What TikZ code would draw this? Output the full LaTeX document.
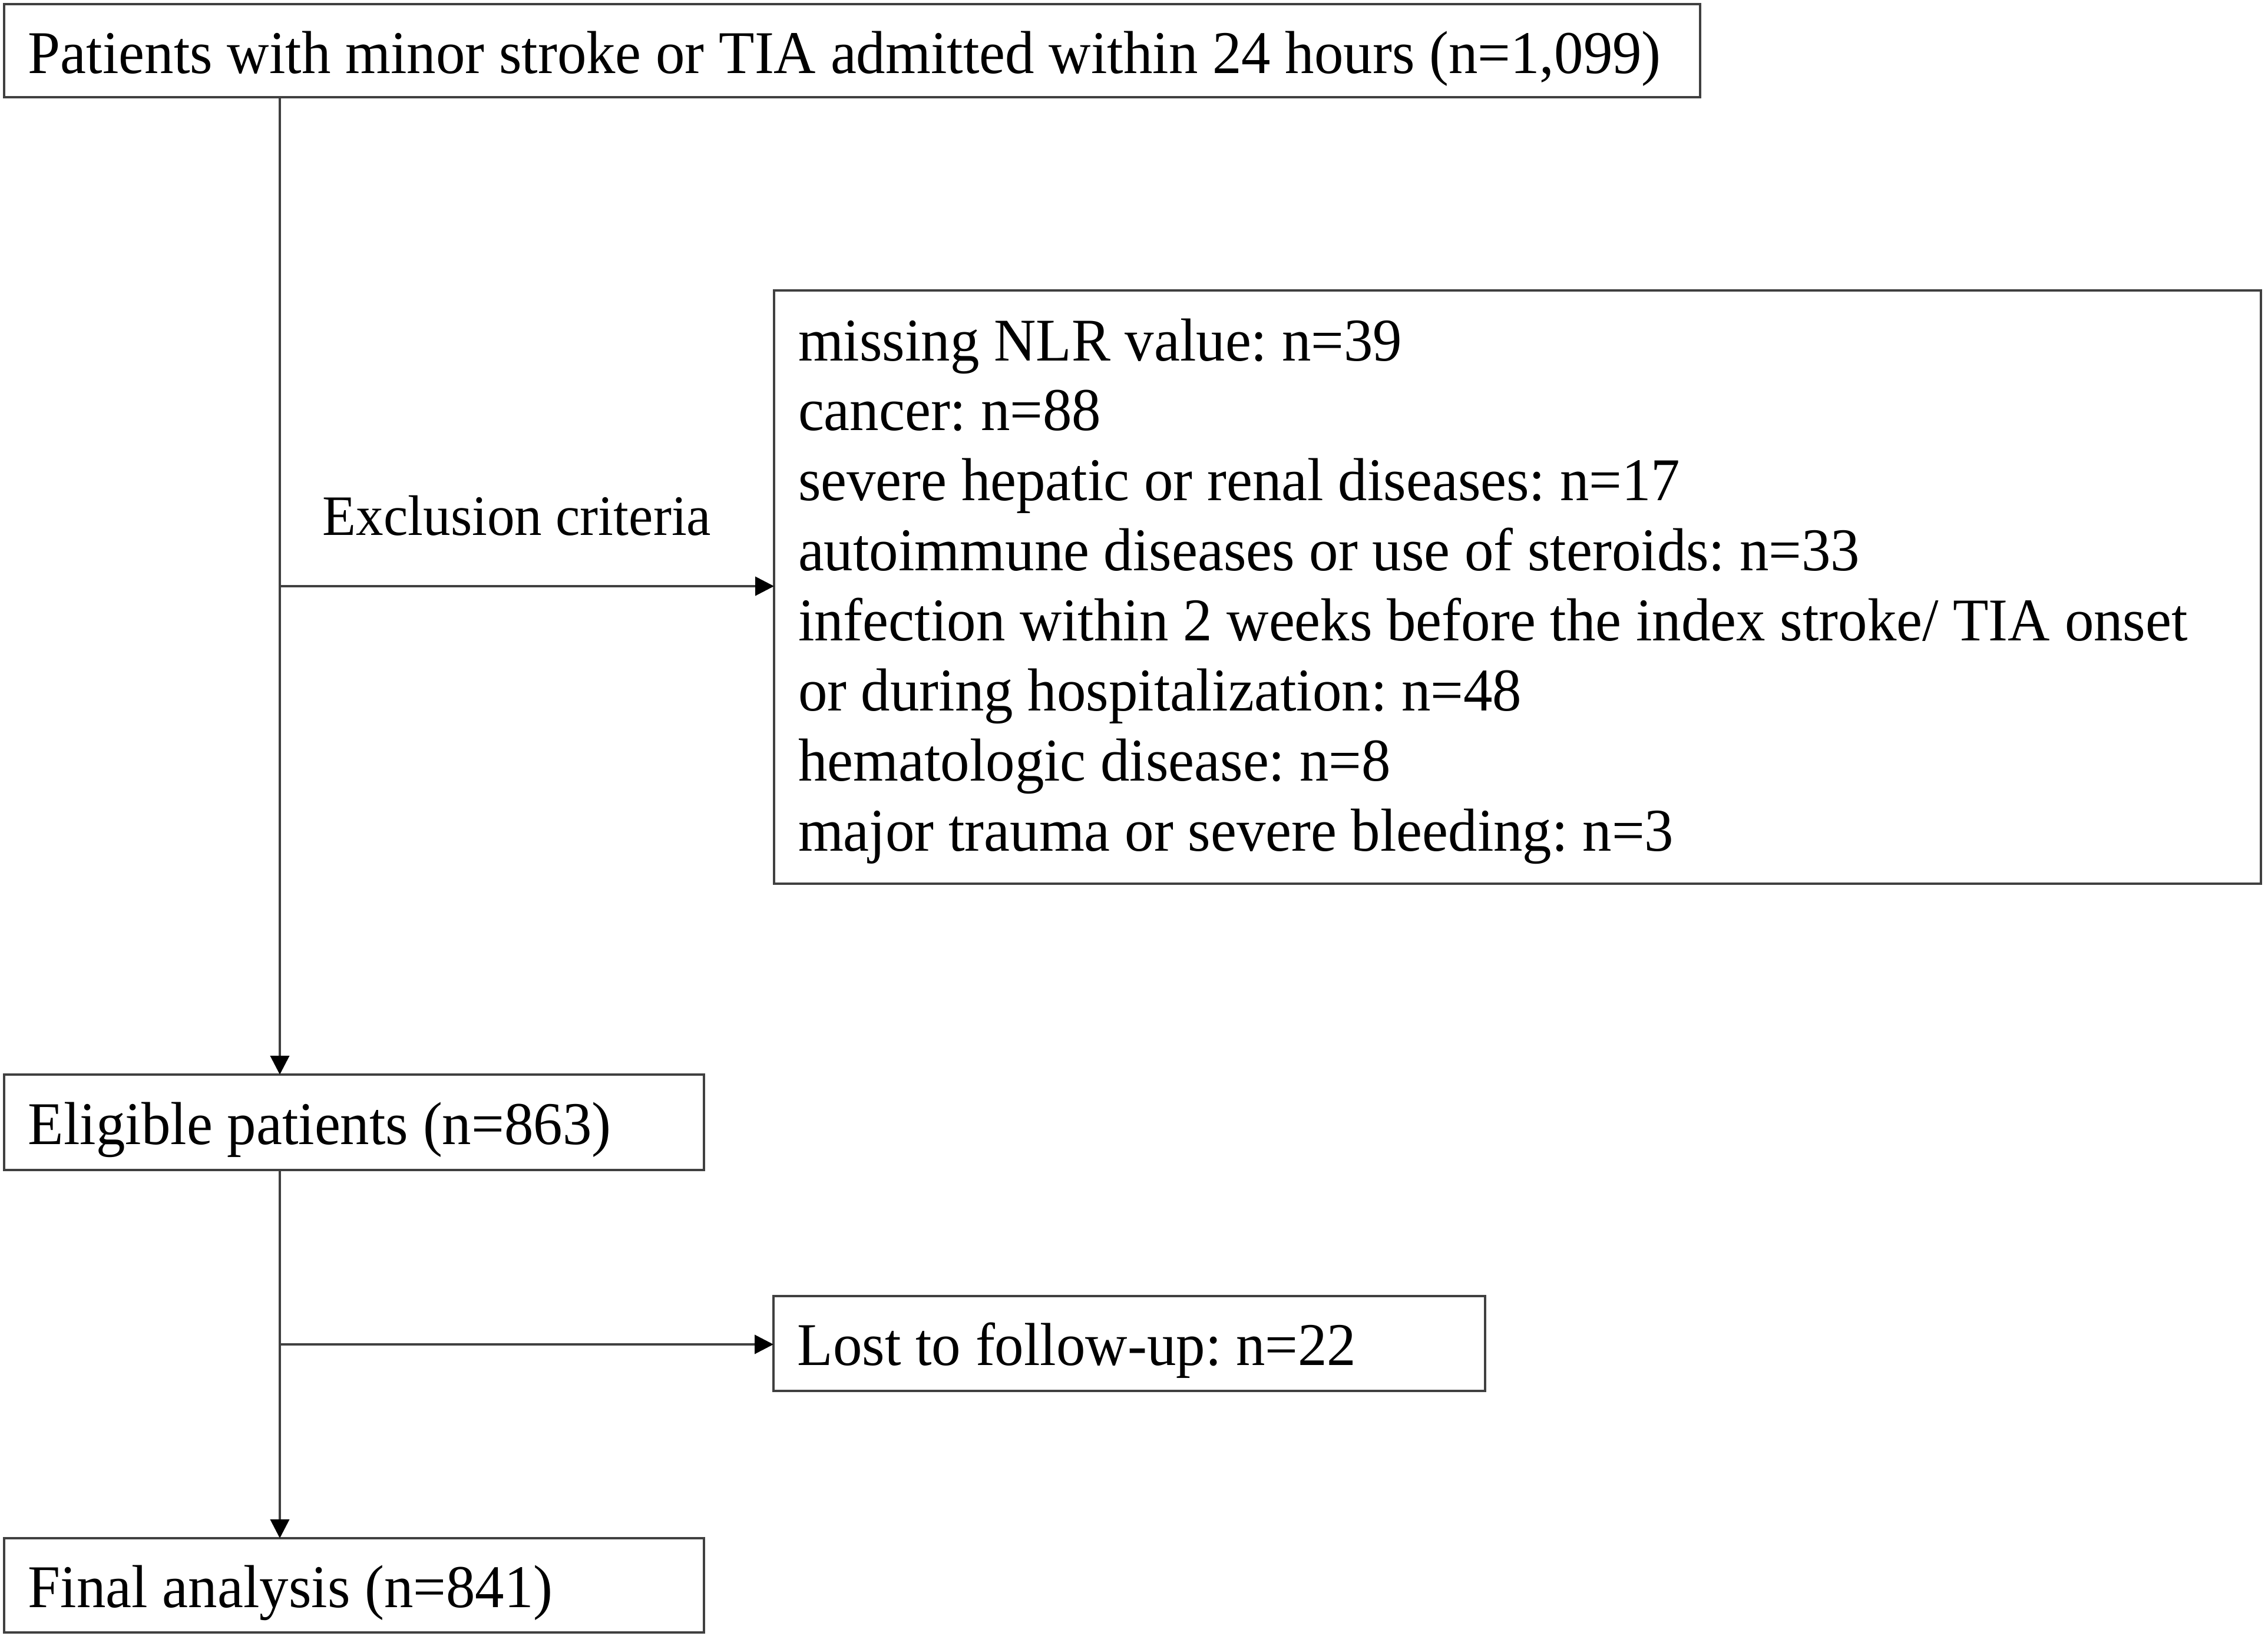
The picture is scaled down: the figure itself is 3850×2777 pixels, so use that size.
\documentclass[tikz,border=0pt]{standalone}
\usepackage{fontspec}
\setmainfont{Liberation Serif}[FakeStretch=0.96]
\newfontfamily\tnr{Liberation Serif}[FakeStretch=0.96]
\usetikzlibrary{arrows.meta}
\newcommand{\mainsz}{\tnr\fontsize{10.3pt}{11.9pt}\selectfont\frenchspacing\hyphenpenalty=10000\exhyphenpenalty=10000}
\newcommand{\labsz}{\tnr\fontsize{9.7pt}{11.6pt}\selectfont\frenchspacing}
\newcommand{\nsp}{\spaceskip=0pt\xspaceskip=0pt\relax}
\begin{document}
\begin{tikzpicture}[x=0.1pt,y=-0.1pt,
  box/.style={draw=black!75, line width=0.4pt, rectangle, inner ysep=0pt, inner xsep=4.1pt,
    outer sep=0pt, anchor=north west, align=left, font=\mainsz},
  conn/.style={draw=black!75, line width=0.4pt},
  arr/.style={conn, -{Triangle[length=3.2pt,width=3.2pt,color=black]}},
  lab/.style={inner sep=0pt, anchor=base west, font=\labsz}
]
\useasboundingbox (0,0) rectangle (3850,2777);

\node[box, text width=279.7pt, text height=11.8pt, text depth=4.0pt] (top) at (7,7)
  {\nsp\mbox{Patients with minor stroke or TIA admitted within 24 hours (n=1,099)}};

\node[box, text width=244.2pt, text height=11.9pt, text depth=88.8pt] (excl) at (1314,493)
  {\nsp missing NLR value: n=39\\
   cancer: n=88\\
   severe hepatic or renal diseases: n=17\\
   autoimmune diseases or use of steroids: n=33\\
   \mbox{infection within 2 weeks before the index stroke/ TIA onset}\\
   or during hospitalization: n=48\\
   hematologic disease: n=8\\
   major trauma or severe bleeding: n=3};

\node[box, text width=110.6pt, text height=11.8pt, text depth=4.4pt] (elig) at (7,1824)
  {\nsp Eligible patients (n=863)};

\node[box, text width=112.6pt, text height=11.8pt, text depth=4.3pt] (lost) at (1313,2200)
  {\nsp Lost to follow-up: n=22};

\node[box, text width=110.6pt, text height=11.7pt, text depth=4.3pt] (final) at (7,2611)
  {\nsp Final analysis (n=841)};

\node[lab] (exlab) at (546,908) {Exclusion criteria};

\coordinate (j1) at (475,995);
\coordinate (j2) at (475,2282);

\draw[arr] (top.south -| j1) -- (elig.north -| j1);
\draw[arr] (j1) -- (j1 -| excl.west);
\draw[arr] (elig.south -| j2) -- (final.north -| j2);
\draw[arr] (j2) -- (j2 -| lost.west);
\end{tikzpicture}
\end{document}
